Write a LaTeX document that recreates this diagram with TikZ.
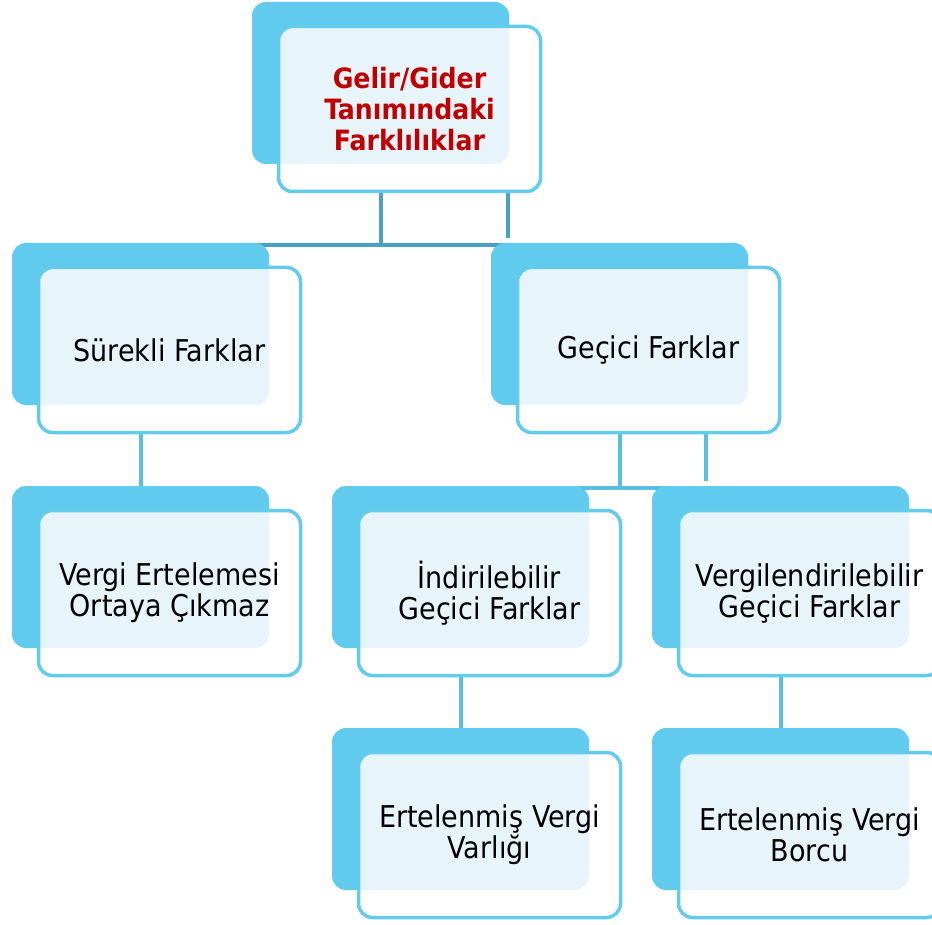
\documentclass[tikz,border=0pt]{standalone}
\usepackage{fontspec}
\setmainfont{DejaVu Sans Condensed}
\usetikzlibrary{calc}
\definecolor{backc}{HTML}{60CBEE}
\definecolor{framec}{HTML}{63CBEC}
\definecolor{dotc}{HTML}{E7F5FB}
\definecolor{linedark}{HTML}{4AA2C2}
\definecolor{linelight}{HTML}{5BBEDF}
\definecolor{titlered}{HTML}{C00000}
\pgfdeclarelayer{bg}
\pgfsetlayers{bg,main}
\tikzset{
  backbox/.style={fill=backc, draw=none, rounded corners=14pt, minimum width=257pt, minimum height=162pt, inner sep=0pt},
  frontbox/.style={draw=framec, line width=3.5pt, rounded corners=14pt, minimum width=262pt, minimum height=165pt, inner sep=0pt, align=center, font=\fontsize{30}{31}\selectfont},
  titletext/.style={text=titlered, font=\bfseries\fontsize{28}{31}\selectfont},
  bodytext/.style={text=black},
  darkconn/.style={draw=linedark, line width=4pt},
  lightconn/.style={draw=linelight, line width=4pt}
}
\newcommand\sabox[5]{%
  \node[backbox] (#1b) at ({#2+128.5},{#3+81}) {};
  \fill[white, rounded corners=14pt] ({#2+26.5},{#3+24.5}) rectangle ({#2+288.5},{#3+189.5});
  \begin{scope}
    \clip[rounded corners=14pt] (#2,#3) rectangle ++(257,162);
    \clip[rounded corners=12pt] ({#2+28},{#3+26}) rectangle ({#2+287},{#3+188});
    \fill[dotc] (#2,#3) rectangle ++(257,162);
  \end{scope}
  \node[frontbox,#4] (#1) at ({#2+157.5},{#3+107}) {#5};
}
\begin{document}
\begin{tikzpicture}[x=1pt,y=-1pt]
\useasboundingbox (0,0) rectangle (932,925);
\sabox{top}{252}{2}{titletext}{Gelir/Gider\\Tanımındaki\\Farklılıklar}
\sabox{s2}{12}{243}{bodytext}{Sürekli Farklar}
\sabox{g2}{491}{243}{bodytext}{Geçici Farklar}
\sabox{s3}{12}{486}{bodytext}{Vergi Ertelemesi\\Ortaya Çıkmaz}
\sabox{i3}{332}{486}{bodytext}{İndirilebilir\\Geçici Farklar}
\sabox{v3}{652}{486}{bodytext}{Vergilendirilebilir\\Geçici Farklar}
\sabox{e4a}{332}{728}{bodytext}{Ertelenmiş Vergi\\Varlığı}
\sabox{e4b}{652}{728}{bodytext}{Ertelenmiş Vergi\\Borcu}
\coordinate (tx) at (508,238);
\coordinate (gx) at (706,481);
\begin{pgfonlayer}{bg}
\draw[darkconn] (topb.center |- top.south) -- ([yshift=-2pt]topb.center |- s2b.north);
\draw[darkconn] ([yshift=-2pt]s2b.north) -- ([yshift=-2pt]g2b.north);
\draw[darkconn] (top.south -| tx) -- (tx);
\draw[lightconn] (s2b.center |- s2.south) -- (s3b.north);
\draw[lightconn] (g2b.center |- g2.south) -- ([yshift=-2pt]g2b.center |- i3b.north);
\draw[lightconn] ([yshift=-2pt]i3b.north) -- ([yshift=-2pt]v3b.north);
\draw[lightconn] (g2.south -| gx) -- (gx);
\draw[lightconn] (i3b.center |- i3.south) -- (e4ab.north);
\draw[lightconn] (v3b.center |- v3.south) -- (e4bb.north);
\end{pgfonlayer}
\end{tikzpicture}
\end{document}
